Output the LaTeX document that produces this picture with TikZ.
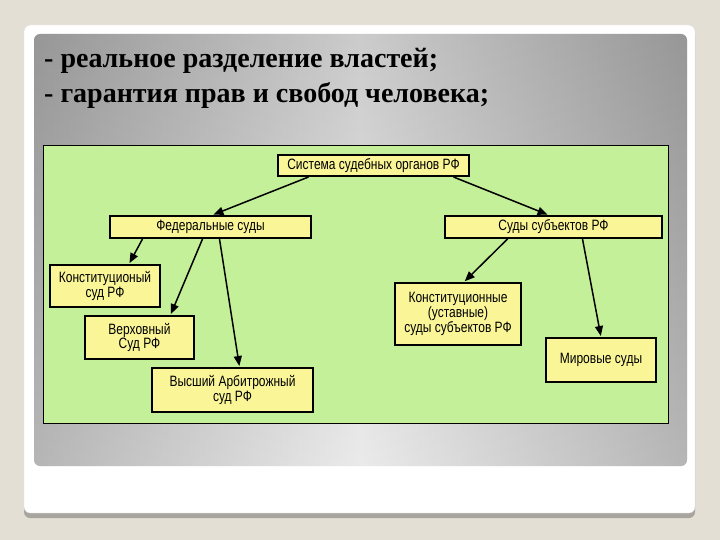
\documentclass[tikz,border=0pt]{standalone}
\usepackage{fontspec}
\setmainfont{Liberation Serif}
\newfontfamily\boxfont[FakeStretch=0.8]{Liberation Sans}
\definecolor{slideBeige}{RGB}{228,223,213}
\definecolor{slideShadow}{RGB}{168,164,158}
\definecolor{panelDark}{RGB}{172,172,172}
\definecolor{panelLight}{RGB}{232,232,232}
\definecolor{courtGreen}{RGB}{197,240,154}
\definecolor{courtYellow}{RGB}{250,246,152}
\usetikzlibrary{arrows.meta}

\begin{document}
\begin{tikzpicture}[x=1pt, y=-1pt,
    court/.style={rectangle, draw=black, line width=2pt, fill=courtYellow,
                  font=\fontsize{15}{13.5}\selectfont\boxfont, align=center,
                  inner sep=1pt},
    link/.style={-{Triangle[length=10pt,width=8pt]}, line width=1.5pt, shorten >=1pt}
  ]
  \useasboundingbox (0,0) rectangle (720,540);
  \fill[slideBeige] (0,0) rectangle (720,540);
  % slide card
  \fill[slideShadow, rounded corners=6pt] (24,28) rectangle (695,518);
  \fill[white, draw=black!15, rounded corners=6pt] (24,25) rectangle (695,513);
  \shade[rounded corners=6pt, left color=panelDark, right color=panelDark,
         middle color=panelLight] (34,34) rectangle (687,466);
  \shade[rounded corners=6pt, top color=black, bottom color=white, opacity=0.12]
    (34,34) rectangle (687,466);
  \node[anchor=base west, align=left, font=\fontsize{28}{35}\selectfont\bfseries, inner sep=0pt]
    (title) at (44,103) {- реальное разделение властей;\\- гарантия прав и свобод человека;};
  % scheme
  \fill[courtGreen, draw=black, line width=0.8pt] (43,145) rectangle (668,423);

  \node[court, minimum width=191pt, minimum height=21pt] (sys)  at (373.5,165.5) {Система судебных органов РФ};
  \node[court, minimum width=201pt, minimum height=22pt] (fed)  at (210.5,227)   {Федеральные суды};
  \node[court, minimum width=217pt, minimum height=22pt] (subj) at (553.5,227)   {Суды субъектов РФ};
  \node[court, minimum width=110pt, minimum height=42pt] (konst) at (105,286)    {Конституционый\\суд РФ};
  \node[court, minimum width=109pt, minimum height=43pt] (verkh) at (139.5,337.5) {Верховный\\Суд РФ};
  \node[court, minimum width=161pt, minimum height=44pt] (arb)  at (232.5,390)   {Высший Арбитрожный\\суд РФ};
  \node[court, minimum width=126pt, minimum height=62pt] (ustav) at (458,314)    {Конституционные\\(уставные)\\суды субъектов РФ};
  \node[court, minimum width=110pt, minimum height=44pt] (mir)  at (601,360)     {Мировые суды};

  \draw[link] ([xshift=-65pt]sys.south) -- ([xshift=2pt]fed.north);
  \draw[link] ([xshift=80pt]sys.south) -- ([xshift=-5pt]subj.north);
  \draw[link] ([xshift=-68pt]fed.south) -- ([xshift=24pt]konst.north);
  \draw[link] ([xshift=-8pt]fed.south) -- ([xshift=31pt]verkh.north);
  \draw[link] ([xshift=9pt]fed.south) -- ([xshift=7pt]arb.north);
  \draw[link] ([xshift=-46pt]subj.south) -- ([xshift=6pt]ustav.north);
  \draw[link] ([xshift=29pt]subj.south) -- (mir.north);
\end{tikzpicture}
\end{document}
